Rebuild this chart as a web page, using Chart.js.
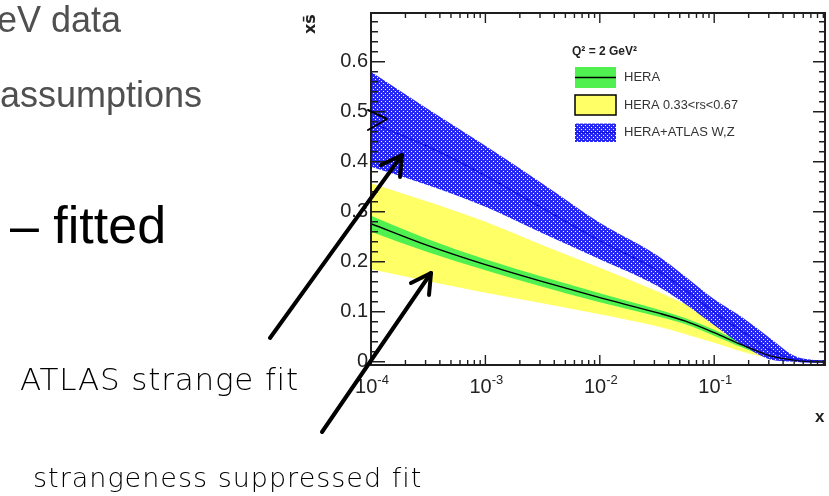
<!DOCTYPE html>
<html><head><meta charset="utf-8">
<script src="https://cdn.jsdelivr.net/npm/chart.js@4.4.0/dist/chart.umd.min.js"></script>
<style>
html,body{margin:0;padding:0;background:#fff;}
#wrap{position:relative;width:829px;height:496px;overflow:hidden;background:#fff;}
#c{position:absolute;left:0;top:0;}
#ov{position:absolute;left:0;top:0;pointer-events:none;}
</style></head><body>
<div id="wrap">
<canvas id="c" width="829" height="496"></canvas>
<svg id="ov" width="829" height="496" xmlns="http://www.w3.org/2000/svg">
  <g font-family="Liberation Sans, Arial, sans-serif">
    <text x="-3" y="31.7" font-size="36" fill="#505050">eV data</text>
    <text x="0" y="106.7" font-size="36" fill="#505050">assumptions</text>
    <text x="10" y="243.3" font-size="52" fill="#000">– fitted</text>
  </g>
  <g font-family="DejaVu Sans, sans-serif" font-weight="200" fill="#000">
    <text x="20" y="390" font-size="31" letter-spacing="0.8">ATLAS strange fit</text>
    <text x="33" y="486.7" font-size="27" letter-spacing="1">strangeness suppressed fit</text>
  </g>
  <g stroke="#000" fill="none" stroke-linecap="round" stroke-linejoin="round">
    <line x1="270" y1="338" x2="402" y2="155" stroke-width="4"/>
    <polyline points="381,165 402,155 400,177" stroke-width="4"/>
    <line x1="322" y1="432" x2="431" y2="273" stroke-width="4"/>
    <polyline points="411,283 431,273 429,295" stroke-width="4"/>
    <polyline points="368,110 387,119 368,130" stroke-width="2"/>
  </g>
</svg>
</div>
<script>
// ---- data ----
const xValues   = [0.0001, 0.000316, 0.001, 0.00316, 0.01, 0.0316, 0.0562, 0.1, 0.178, 0.316, 0.5, 0.71, 0.93];
const heraCentral = [0.276, 0.232, 0.194, 0.160, 0.128, 0.098, 0.081, 0.058, 0.033, 0.011, 0.003, 0.0005, 0];
const heraErr     = [0.016, 0.013, 0.011, 0.010, 0.009, 0.007, 0.006, 0.006, 0.005, 0.003, 0.002, 0.001, 0];
const rsUpper     = [0.357, 0.320, 0.280, 0.233, 0.188, 0.141, 0.115, 0.088, 0.058, 0.022, 0.005, 0.001, 0];
const rsLower     = [0.185, 0.161, 0.138, 0.117, 0.095, 0.071, 0.055, 0.038, 0.020, 0.006, 0.001, 0, 0];
const atlasCentral= [0.478, 0.430, 0.372, 0.307, 0.242, 0.183, 0.143, 0.099, 0.060, 0.022, 0.005, 0.002, 0.001];
const atlasUpper  = [0.580, 0.505, 0.432, 0.356, 0.278, 0.213, 0.170, 0.125, 0.088, 0.045, 0.012, 0.004, 0.003];
const atlasLower  = [0.390, 0.353, 0.310, 0.257, 0.205, 0.152, 0.115, 0.073, 0.033, 0.004, 0, -0.002, -0.002];
const yTicks = [0, 0.1, 0.2, 0.3, 0.4, 0.5, 0.6];
const yTickLabels = ['0', '0.1', '0.2', '0.3', '0.4', '0.5', '0.6'];
const xTicks = [0.0001, 0.001, 0.01, 0.1];
const xTickBase = ['10', '10', '10', '10'];
const xTickExp = ['-4', '-3', '-2', '-1'];
const legendTitle = 'Q² = 2 GeV²';
const legendLabels = ['HERA', 'HERA 0.33<rs<0.67', 'HERA+ATLAS W,Z'];
const yTitle = 'xs̄';
const xTitle = 'x';

const canvas = document.getElementById('c');
const ctx = canvas.getContext('2d');

function makePattern() {
  const c = document.createElement('canvas'); c.width = 4; c.height = 4;
  const g = c.getContext('2d');
  g.fillStyle = 'rgb(40,40,245)'; g.fillRect(0, 0, 4, 4);
  g.clearRect(1, 1, 1, 1); g.clearRect(3, 3, 1, 1);
  return ctx.createPattern(c, 'repeat');
}
const bluePat = makePattern();
const GREEN = 'rgb(80,240,80)';
const YELLOW = 'rgb(255,255,102)';

const pts = ys => xValues.map((x, i) => ({x, y: ys[i]}));
const edge = (ys, extra) => Object.assign({data: pts(ys), borderWidth: 0, borderColor: 'rgba(0,0,0,0)', pointRadius: 0, fill: false, cubicInterpolationMode: 'monotone'}, extra);

const datasets = [
  edge(atlasCentral, {label: 'atlasCentral', borderWidth: 1.3, borderColor: 'rgb(20,20,225)', order: 1}),
  edge(heraCentral, {label: 'heraCentral', borderWidth: 1.4, borderColor: '#000', order: 2}),
  edge(atlasUpper, {label: 'atlasUp', fill: {target: 3}, backgroundColor: bluePat, order: 3}),
  edge(atlasLower, {label: 'atlasLo', order: 4}),
  edge(heraCentral.map((v, i) => v + heraErr[i]), {label: 'heraUp', fill: {target: 5}, backgroundColor: GREEN, order: 5}),
  edge(heraCentral.map((v, i) => Math.max(0, v - heraErr[i])), {label: 'heraLo', order: 6}),
  edge(rsUpper, {label: 'rsUp', fill: {target: 7}, backgroundColor: YELLOW, order: 7}),
  edge(rsLower, {label: 'rsLo', order: 8})
];

const rootStyle = {
  id: 'rootStyle',
  afterDatasetsDraw(chart) {
    const {ctx, chartArea: a, scales: {x, y}} = chart;
    ctx.save();
    ctx.strokeStyle = '#1e1e1e';
    ctx.lineWidth = 1.4;
    ctx.beginPath();
    for (let k = 0; k <= 40; k++) {
      const v = k * 0.02;
      const py = y.getPixelForValue(v);
      if (py < a.top + 1) break;
      const major = k % 5 === 0;
      ctx.moveTo(a.left, py); ctx.lineTo(a.left + (major ? 14 : 7), py);
      ctx.moveTo(a.right, py); ctx.lineTo(a.right - (major ? 12 : 6), py);
    }
    for (let e = -4; e <= -1; e++) {
      for (let k = 1; k <= 9; k++) {
        const v = k * Math.pow(10, e);
        if (v > x.max) break;
        const px = x.getPixelForValue(v);
        const len = k === 1 ? 10 : 5;
        ctx.moveTo(px, a.bottom); ctx.lineTo(px, a.bottom - len);
        ctx.moveTo(px, a.top); ctx.lineTo(px, a.top + len);
      }
    }
    ctx.stroke();
    ctx.lineWidth = 2;
    ctx.strokeRect(a.left, a.top, a.right - a.left, a.bottom - a.top);

    // x tick labels with superscript exponents
    ctx.fillStyle = '#222';
    ctx.textBaseline = 'alphabetic';
    ctx.textAlign = 'left';
    xTicks.forEach((v, i) => {
      const px = x.getPixelForValue(v);
      ctx.font = '20px "Liberation Sans", Arial, sans-serif';
      const wb = ctx.measureText(xTickBase[i]).width;
      ctx.font = '13px "Liberation Sans", Arial, sans-serif';
      const we = ctx.measureText(xTickExp[i]).width;
      const start = px + 1 - (wb + we) / 2;
      ctx.font = '20px "Liberation Sans", Arial, sans-serif';
      ctx.fillText(xTickBase[i], start, 393);
      ctx.font = '13px "Liberation Sans", Arial, sans-serif';
      ctx.fillText(xTickExp[i], start + wb, 384);
    });

    // axis titles
    ctx.font = 'bold 17px "Liberation Sans", Arial, sans-serif';
    ctx.fillText(xTitle, 815, 422);
    ctx.save();
    ctx.translate(315, 34);
    ctx.rotate(-Math.PI / 2);
    ctx.font = 'bold 16px "DejaVu Sans", sans-serif';
    ctx.fillText(yTitle, 0, 0);
    ctx.restore();

    // legend
    ctx.fillStyle = '#222';
    ctx.font = 'bold 12px "Liberation Sans", Arial, sans-serif';
    ctx.fillText(legendTitle, 572, 55);
    const bx = 575, bw = 41;
    ctx.fillStyle = GREEN; ctx.fillRect(bx, 67, bw, 21);
    ctx.strokeStyle = '#000'; ctx.lineWidth = 1.5;
    ctx.beginPath(); ctx.moveTo(bx, 77.5); ctx.lineTo(bx + bw, 77.5); ctx.stroke();
    ctx.fillStyle = YELLOW; ctx.fillRect(bx, 95, bw, 20);
    ctx.strokeRect(bx, 95, bw, 20);
    ctx.fillStyle = bluePat; ctx.fillRect(bx, 123.5, bw, 18.5);
    ctx.strokeStyle = 'rgb(20,20,225)'; ctx.lineWidth = 1.3;
    ctx.beginPath(); ctx.moveTo(bx, 132.7); ctx.lineTo(bx + bw, 132.7); ctx.stroke();
    ctx.fillStyle = '#333';
    ctx.font = '13px "Liberation Sans", Arial, sans-serif';
    ctx.textBaseline = 'middle';
    const ly = [77.5, 105, 132];
    legendLabels.forEach((t, i) => ctx.fillText(t, 624, ly[i], i === 1 ? 114 : undefined));
    ctx.restore();
  }
};

new Chart(ctx, {
  type: 'line',
  data: {datasets},
  options: {
    responsive: false,
    animation: false,
    devicePixelRatio: 1,
    parsing: true,
    layout: {padding: {left: 0, right: 4, top: 13, bottom: 0}},
    plugins: {legend: {display: false}, tooltip: {enabled: false}},
    scales: {
      x: {
        type: 'logarithmic', min: 0.0001, max: 0.93, bounds: 'data',
        afterBuildTicks: s => { s.ticks = xTicks.map(v => ({value: v})); },
        afterFit: s => { s.height = 131; s.paddingLeft = 0; s.paddingRight = 0; s.paddingTop = 0; s.paddingBottom = 0; },
        grid: {display: false, drawTicks: false}, border: {display: false},
        ticks: {display: false}
      },
      y: {
        type: 'linear', min: -0.0066, max: 0.6974, bounds: 'data',
        afterBuildTicks: s => { s.ticks = yTicks.map(v => ({value: v})); },
        afterFit: s => { s.width = 371; s.paddingTop = 0; s.paddingBottom = 0; s.paddingLeft = 0; s.paddingRight = 0; },
        grid: {display: false, drawTicks: false}, border: {display: false},
        ticks: {padding: 3, autoSkip: false, color: '#222',
          font: {family: '"Liberation Sans", Arial, sans-serif', size: 20},
          callback: (v, i) => yTickLabels[i]}
      }
    }
  },
  plugins: [rootStyle]
});
</script>
</body></html>
